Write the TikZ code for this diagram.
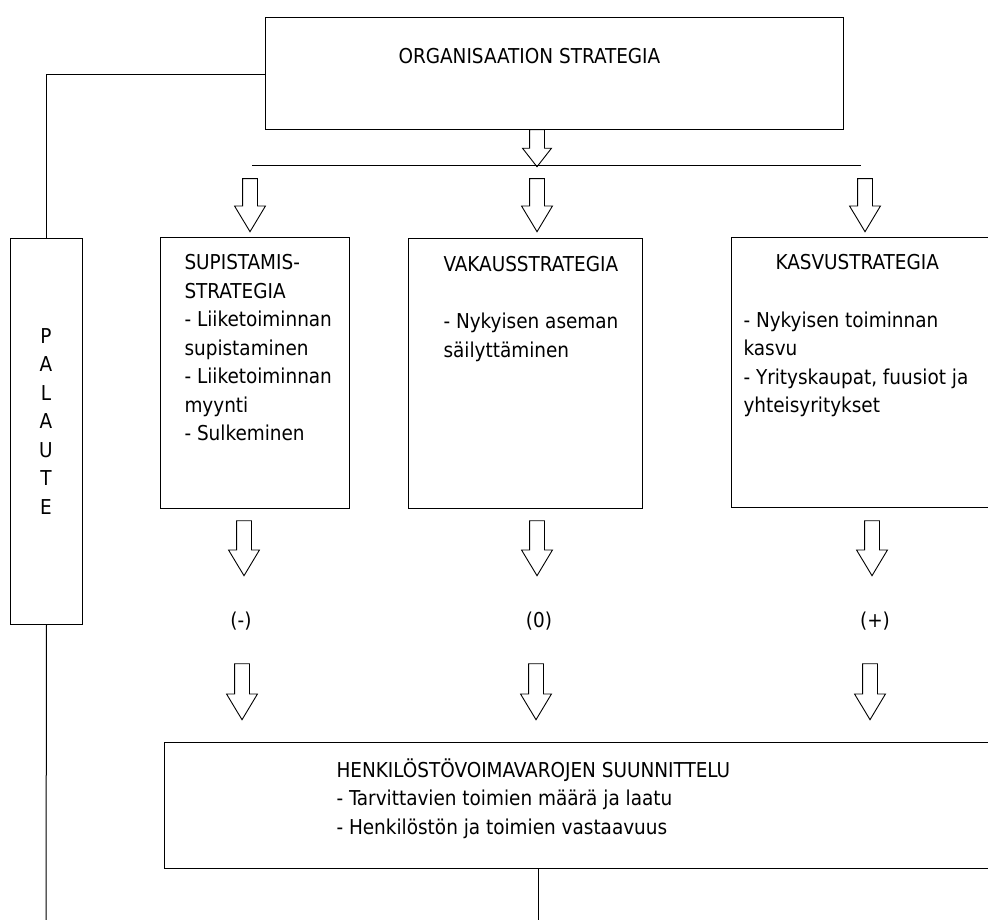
\documentclass[tikz,border=0pt]{standalone}
\usepackage{fontspec}
\setmainfont{DejaVu Sans Condensed}
\usetikzlibrary{shapes.arrows}
\begin{document}
\begin{tikzpicture}[x=1pt,y=-1pt,
  line width=1pt,
  box/.style={draw, rectangle, inner sep=0pt, anchor=north west},
  txt/.style={inner sep=0pt, align=left, anchor=north west, font=\fontsize{20.5}{28.5}\selectfont},
  lbl/.style={inner sep=0pt, font=\fontsize{20.5}{24}\selectfont},
  barrow/.style={draw, single arrow, shape border rotate=270, inner sep=7pt,
    single arrow head extend=8pt, single arrow tip angle=62,
    line width=0.9pt}]
\useasboundingbox (0,0) rectangle (988,920);
\clip (0,0) rectangle (988,920);

% boxes
\node[box, minimum width=578pt, minimum height=112pt] (org) at (265,17) {};
\node[box, minimum width=72pt, minimum height=386pt] (pal) at (10,238) {};
\node[box, minimum width=189pt, minimum height=271pt] (sup) at (160,237) {};
\node[box, minimum width=234pt, minimum height=270pt] (vak) at (408,238) {};
\node[box, minimum width=300pt, minimum height=270pt] (kas) at (731,237) {};
\node[box, minimum width=860pt, minimum height=126pt] (hen) at (164,742) {};

% texts
\node[txt, anchor=west] (torg) at (398,56) {ORGANISAATION STRATEGIA};
\node[txt, align=center, anchor=north] (tpal) at (46,328) {P\\A\\L\\A\\U\\T\\E};
\node[txt] (tsup) at (184,254) {SUPISTAMIS-\\STRATEGIA\\- Liiketoiminnan\\supistaminen\\- Liiketoiminnan\\myynti\\- Sulkeminen};
\node[txt] (tvak) at (443,256) {VAKAUSSTRATEGIA\\[28.5pt]- Nykyisen aseman\\säilyttäminen};
\node[txt] (tkas1) at (775,254) {KASVUSTRATEGIA};
\node[txt] (tkas2) at (743,311) {- Nykyisen toiminnan\\kasvu\\- Yrityskaupat, fuusiot ja\\yhteisyritykset};
\node[txt] (then) at (336,758) {HENKILÖSTÖVOIMAVAROJEN SUUNNITTELU\\- Tarvittavien toimien määrä ja laatu\\- Henkilöstön ja toimien vastaavuus};

\node[lbl] (lm) at (241,621) {(-)};
\node[lbl] (l0) at (539,621) {(0)};
\node[lbl] (lp) at (875,621) {(+)};

% block arrows
\node[barrow, minimum height=37pt, single arrow head extend=7pt, single arrow tip angle=76] (a0) at (537,143.5) {};
\node[barrow, minimum height=53pt] (a1) at (250,199) {};
\node[barrow, minimum height=53pt] (a2) at (537,199) {};
\node[barrow, minimum height=53pt] (a3) at (865,199) {};
\node[barrow, minimum height=55pt] (b1) at (244,542) {};
\node[barrow, minimum height=55pt] (b2) at (537,542) {};
\node[barrow, minimum height=55pt] (b3) at (872,542) {};
\node[barrow, minimum height=56pt] (c1) at (242,685.5) {};
\node[barrow, minimum height=56pt] (c2) at (536,685.5) {};
\node[barrow, minimum height=56pt] (c3) at (870,685.5) {};

% connectors
\coordinate (hl) at (252,166);
\coordinate (hr) at (861,166);
\draw (hl) -- (hr);
\draw (org.west |- 0,75) -| (pal.north);
\coordinate (palend) at (46,925);
\draw (pal.south) -- (palend);
\coordinate (henout) at (538,868);
\coordinate (henend) at (538,925);
\draw (henout) -- (henend);
\end{tikzpicture}
\end{document}
